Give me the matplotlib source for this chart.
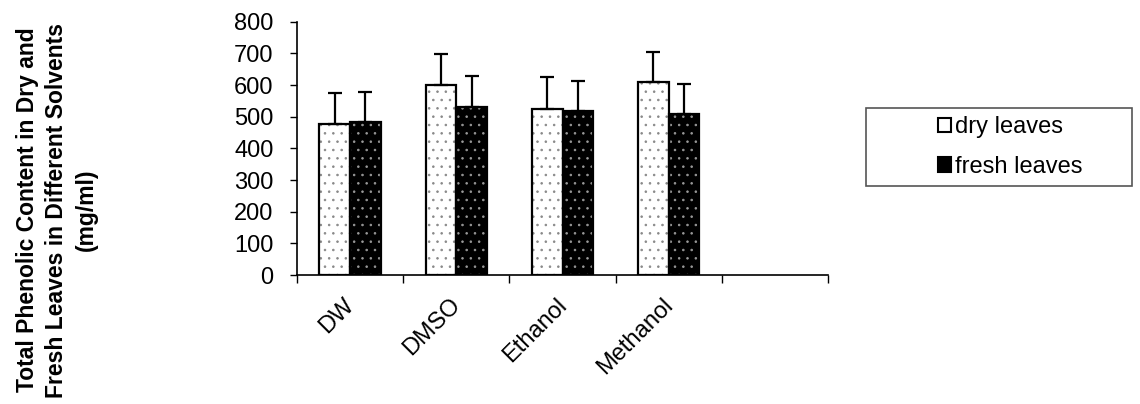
import numpy as np
import matplotlib
matplotlib.use("Agg")
import matplotlib.pyplot as plt
import matplotlib.transforms as mtrans
from matplotlib.patches import Rectangle, Patch

categories = ['DW', 'DMSO', 'Ethanol', 'Methanol', '']
dry = [476, 600, 525, 609]
fresh = [482, 530, 519, 507]
dry_err = [98, 97, 100, 94]
fresh_err = [96, 99, 95, 96]
series_names = ['dry leaves', 'fresh leaves']
yticks = [0, 100, 200, 300, 400, 500, 600, 700, 800]

plt.rcParams['font.family'] = ['Liberation Sans', 'DejaVu Sans']
plt.rcParams['hatch.linewidth'] = 0.6

fig = plt.figure(figsize=(11.4, 4.04), dpi=100)
ax = fig.add_axes([297/1140, 1-275/404, (828-297)/1140, (275-21.7)/404])

x = np.arange(len(dry))
w = 0.29

# dry: white with grey dots
ax.bar(x - w/2, dry, w, color='white', edgecolor='#888888', hatch='..', lw=0, zorder=2)
ax.bar(x - w/2, dry, w, fill=False, edgecolor='black', lw=1.6, zorder=3)
# fresh: black with light dots
ax.bar(x + w/2, fresh, w, color='black', edgecolor='#9a9a9a', hatch='..', lw=0, zorder=2)
ax.bar(x + w/2, fresh, w, fill=False, edgecolor='black', lw=1.6, zorder=3)

ax.errorbar(x - w/2, dry, yerr=[np.zeros(len(dry)), dry_err], fmt='none',
            ecolor='black', elinewidth=1.6, capsize=5, capthick=1.6, zorder=4)
ax.errorbar(x + w/2, fresh, yerr=[np.zeros(len(fresh)), fresh_err], fmt='none',
            ecolor='black', elinewidth=1.6, capsize=5, capthick=1.6, zorder=4)

ax.set_xlim(-0.5, len(categories) - 0.5)
ax.set_ylim(0, 800)
ax.set_yticks(yticks)
ax.tick_params(axis='y', labelsize=17, length=5, width=1, pad=12, direction='out')

ax.set_xticks(np.arange(len(categories)))
ax.set_xticklabels(categories, rotation=45, ha='right', va='top',
                   rotation_mode='anchor', fontsize=17)
ax.tick_params(axis='x', which='major', length=0, pad=13.5)
shift = mtrans.ScaledTranslation(-7/100, 0, fig.dpi_scale_trans)
for lab in ax.get_xticklabels():
    lab.set_transform(lab.get_transform() + shift)
ax.set_xticks(np.arange(len(categories) + 1) - 0.5, minor=True)
ax.tick_params(axis='x', which='minor', length=6, width=1, direction='out')

for s in ['top', 'right']:
    ax.spines[s].set_visible(False)
for s in ['left', 'bottom']:
    ax.spines[s].set_linewidth(1.2)

fig.text(57/1140, 1-210/404,
         'Total Phenolic Content in Dry and\nFresh Leaves in Different Solvents\n(mg/ml)',
         rotation=90, ha='center', va='center', fontsize=16.5, fontweight='bold',
         linespacing=1.35)

# legend box
fig.patches.append(Rectangle((866/1140, 1-186/404), (1132-866)/1140, 78/404,
                             transform=fig.transFigure, fill=False,
                             edgecolor='#555555', lw=1.2))
handles = [Patch(facecolor='white', edgecolor='black', lw=1.5),
           Patch(facecolor='black', edgecolor='black', lw=1.5)]
fig.legend(handles, series_names, loc='center left',
           bbox_to_anchor=(917/1140, 1-147/404), frameon=False, fontsize=17,
           handlelength=0.55, handleheight=0.55, handletextpad=0.15, labelspacing=0.75)

fig.savefig('out.png', dpi=100)
